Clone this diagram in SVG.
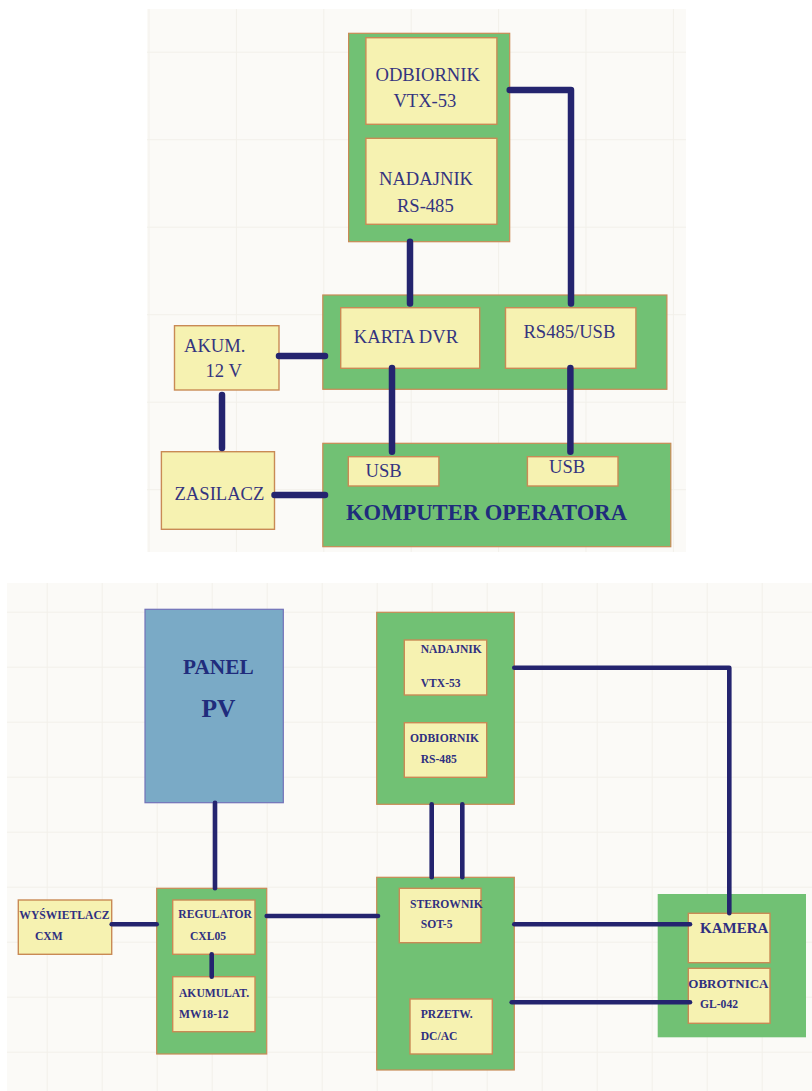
<svg xmlns="http://www.w3.org/2000/svg" width="812" height="1091" viewBox="0 0 812 1091">
<style>
.bg{fill:#fbfaf7}
.grid{stroke:#f2f0ea;stroke-width:1;fill:none}
.grn{fill:#71c174;stroke:#c98a55;stroke-width:1.2}
.grn2{fill:#71c174}
.yel{fill:#f6f2b1;stroke:#c98a55;stroke-width:1.4}
.pv{fill:#7aaac6;stroke:#7272b8;stroke-width:1.2}
.t{font-family:"Liberation Serif","Times New Roman",serif;fill:#34347f;font-size:18.6px}
.b{font-family:"Liberation Serif","Times New Roman",serif;fill:#2f2f80;font-weight:bold;font-size:11.6px}
.big{font-family:"Liberation Serif","Times New Roman",serif;fill:#202c7c;font-weight:bold}
.w{stroke:#24246f;fill:none;stroke-linecap:round;stroke-linejoin:round}
.w1{stroke-width:6.5}
.w2{stroke-width:4.6}
</style>
<defs>
<pattern id="gTop" x="148.5" y="51.7" width="87.4" height="87.5" patternUnits="userSpaceOnUse">
<path class="grid" d="M0.5 0V87.5M0 0.5H87.4"/>
</pattern>
<pattern id="gBot" x="46.7" y="611.7" width="55" height="55" patternUnits="userSpaceOnUse">
<path class="grid" d="M0.5 0V55M0 0.5H55"/>
</pattern>
</defs>
<rect width="812" height="1091" fill="#ffffff"/>
<rect class="bg" x="147" y="9" width="539" height="543"/>
<rect x="147" y="9" width="539" height="543" fill="url(#gTop)"/>
<rect class="bg" x="7" y="583" width="805" height="508"/>
<rect x="7" y="583" width="805" height="508" fill="url(#gBot)"/>

<!-- TOP DIAGRAM -->
<g id="top-radio-unit">
<rect class="grn" x="348.6" y="33.3" width="161.1" height="208.4"/>
</g>
<g id="odbiornik-vtx53">
<rect class="yel" x="365.9" y="37.7" width="131" height="86.6"/>
<text class="t" x="375.5" y="81">ODBIORNIK</text>
<text class="t" x="393.4" y="106.7">VTX-53</text>
</g>
<g id="nadajnik-rs485">
<rect class="yel" x="365.9" y="138.3" width="131" height="86"/>
<text class="t" x="379" y="185">NADAJNIK</text>
<text class="t" x="396.9" y="212.3">RS-485</text>
</g>
<g id="dvr-unit">
<rect class="grn" x="322.8" y="295" width="344.1" height="94.3"/>
</g>
<g id="karta-dvr">
<rect class="yel" x="340.7" y="307.7" width="139" height="60.6"/>
<text class="t" x="353.8" y="343.3">KARTA DVR</text>
</g>
<g id="rs485-usb">
<rect class="yel" x="505.5" y="307.7" width="130.4" height="60.6"/>
<text class="t" x="523.4" y="338.3">RS485/USB</text>
</g>
<g id="akum-12v">
<rect class="yel" x="174.5" y="325.7" width="104.5" height="64.3"/>
<text class="t" x="184" y="351.7">AKUM.</text>
<text class="t" x="205.5" y="376.7">12 V</text>
</g>
<g id="zasilacz">
<rect class="yel" x="161.4" y="451.7" width="113.1" height="77.6"/>
<text class="t" x="174.5" y="500">ZASILACZ</text>
</g>
<g id="komputer-operatora">
<rect class="grn" x="322.8" y="443.3" width="348" height="103.4"/>
<text class="big" x="346" y="520" font-size="22.6">KOMPUTER OPERATORA</text>
</g>
<g id="usb-1">
<rect class="yel" x="348.3" y="456.7" width="90.6" height="29.3"/>
<text class="t" x="365.5" y="477.3">USB</text>
</g>
<g id="usb-2">
<rect class="yel" x="527.4" y="456.7" width="90.6" height="29.3"/>
<text class="t" x="549" y="472.7">USB</text>
</g>

<!-- BOTTOM DIAGRAM -->
<g id="panel-pv">
<rect class="pv" x="145" y="609.3" width="138.3" height="193.4"/>
<text class="big" x="218.3" y="674" font-size="21.3" text-anchor="middle" fill="#2a2a7c">PANEL</text>
<text class="big" x="218.5" y="716.7" font-size="25.5" text-anchor="middle" fill="#2a2a7c">PV</text>
</g>
<g id="radio-unit-bottom">
<rect class="grn" x="376.7" y="612.3" width="137.6" height="192"/>
</g>
<g id="nadajnik-vtx53">
<rect class="yel" x="404.3" y="640" width="82.4" height="55"/>
<text class="b" x="420.7" y="653.3">NADAJNIK</text>
<text class="b" x="420.7" y="686.7">VTX-53</text>
</g>
<g id="odbiornik-rs485">
<rect class="yel" x="404.3" y="722.7" width="82.4" height="54.6"/>
<text class="b" x="410" y="741.7">ODBIORNIK</text>
<text class="b" x="420.7" y="763.3">RS-485</text>
</g>
<g id="wyswietlacz-cxm">
<rect class="yel" x="18.3" y="900" width="93.4" height="54.3"/>
<text class="b" x="19.3" y="919.3">WYŚWIETLACZ</text>
<text class="b" x="35" y="940">CXM</text>
</g>
<g id="regulator-unit">
<rect class="grn" x="156.7" y="888.3" width="110" height="165.7"/>
</g>
<g id="regulator-cxl05">
<rect class="yel" x="172.7" y="900" width="82.3" height="54.3"/>
<text class="b" x="178.3" y="918.3">REGULATOR</text>
<text class="b" x="190" y="940">CXL05</text>
</g>
<g id="akumulat-mw18-12">
<rect class="yel" x="172.7" y="976.7" width="82.3" height="55"/>
<text class="b" x="179" y="997.3">AKUMULAT.</text>
<text class="b" x="179" y="1018.3">MW18-12</text>
</g>
<g id="sterownik-unit">
<rect class="grn" x="376.7" y="877.3" width="137.6" height="192.7"/>
</g>
<g id="sterownik-sot5">
<rect class="yel" x="399.3" y="888.3" width="81.7" height="54.4"/>
<text class="b" x="410" y="907.7">STEROWNIK</text>
<text class="b" x="420.7" y="928.3">SOT-5</text>
</g>
<g id="przetw-dcac">
<rect class="yel" x="410" y="999" width="82.3" height="55"/>
<text class="b" x="420.7" y="1018.3">PRZETW.</text>
<text class="b" x="420.7" y="1040">DC/AC</text>
</g>
<g id="kamera-unit">
<rect class="grn2" x="657.7" y="894" width="148.3" height="143.3"/>
</g>
<g id="kamera">
<rect class="yel" x="688.3" y="913.3" width="81.7" height="49.4"/>
<text class="b" x="700" y="932.7" style="font-size:15px">KAMERA</text>
</g>
<g id="obrotnica-gl042">
<rect class="yel" x="688.3" y="968.3" width="81.7" height="55"/>
<text class="b" x="688.3" y="987.7" style="font-size:13px">OBROTNICA</text>
<text class="b" x="700" y="1008.3">GL-042</text>
</g>

<g id="connectors">
<path class="w w1" d="M509.7 90H571V303.5"/>
<path class="w w1" d="M410 241.7V303.5"/>
<path class="w w1" d="M279 356H325"/>
<path class="w w1" d="M222 395V448"/>
<path class="w w1" d="M274.5 495H325"/>
<path class="w w1" d="M392 368V451.7"/>
<path class="w w1" d="M570.4 368V451.7"/>
<path class="w w2" d="M215 802.7V888.3"/>
<path class="w w2" d="M111.7 924.3H156.7"/>
<path class="w w2" d="M211.7 954.3V976.7"/>
<path class="w w2" d="M266.7 916H378"/>
<path class="w w2" d="M431.7 804.3V877.3"/>
<path class="w w2" d="M462.3 804.3V877.3"/>
<path class="w w2" d="M514.3 667.7H729.3V913.3"/>
<path class="w w2" d="M514.3 924.3H690"/>
<path class="w w2" d="M511.7 1002.3H690"/>
</g>
</svg>
